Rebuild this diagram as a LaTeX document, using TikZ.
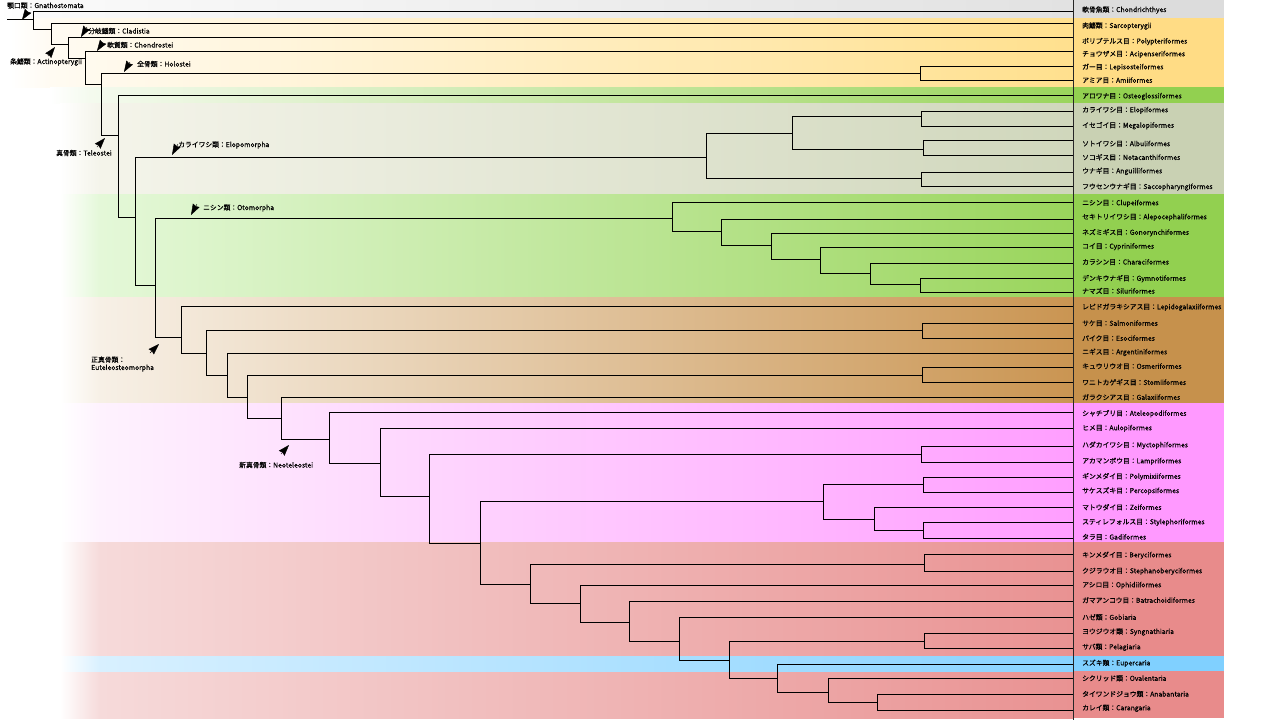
\documentclass[tikz,border=0pt]{standalone}
\usepackage{fontspec}
\setmainfont{Noto Sans CJK JP}
\newfontfamily\labfont{Noto Sans CJK JP}[FakeBold=0.35]
\usetikzlibrary{arrows.meta}

\definecolor{chonL}{HTML}{FAFAFA}\definecolor{chonR}{HTML}{E2E2E2}\definecolor{chonB}{HTML}{DCDCDC}
\definecolor{sarcL}{HTML}{FFFBF2}\definecolor{sarcR}{HTML}{FFE08E}\definecolor{sarcB}{HTML}{FFDC85}
\definecolor{osteL}{HTML}{F4FAEE}\definecolor{osteR}{HTML}{9AD55C}\definecolor{osteB}{HTML}{92D050}
\definecolor{elopL}{HTML}{F4F4EA}\definecolor{elopR}{HTML}{D0D7BC}\definecolor{elopB}{HTML}{C9D1B3}
\definecolor{otomL}{HTML}{E4F8D8}\definecolor{otomR}{HTML}{9AD55C}\definecolor{otomB}{HTML}{92D050}
\definecolor{euteL}{HTML}{F7F0E6}\definecolor{euteR}{HTML}{CA9552}\definecolor{euteB}{HTML}{C6914C}
\definecolor{neotL}{HTML}{FEF2FE}\definecolor{neotR}{HTML}{FF9EFF}\definecolor{neotB}{HTML}{FF99FF}
\definecolor{percL}{HTML}{F6DADA}\definecolor{percR}{HTML}{E99292}\definecolor{percB}{HTML}{E88B8B}
\definecolor{eupeL}{HTML}{D8F0FF}\definecolor{eupeR}{HTML}{88D3FF}\definecolor{eupeB}{HTML}{80D0FF}

% band: y1, y2, x start, left, right, label area
\newcommand{\fishband}[6]{%
  \shade[left color=white,right color=#4] (#3,#1) rectangle (#3+40,#2);
  \shade[left color=#4,right color=#5] (#3+40,#1) rectangle (1073,#2);
  \fill[#6] (1073,#1) rectangle (1224,#2);}

\begin{document}
\begin{tikzpicture}[x=1pt,y=-1pt,
  branch/.style={draw=black,line width=.8pt},
  leaf/.style={anchor=west,inner sep=0pt,font=\labfont\fontsize{6.8}{7.8}\selectfont},
  clade/.style={anchor=west,inner sep=0pt,align=left,font=\labfont\fontsize{6.8}{7.8}\selectfont},
  pointer/.style={-{Stealth[length=11pt,width=7.5pt,inset=1pt]},line width=.4pt},
  rim/.style={draw=black!85,line width=1pt},
  ]
  \useasboundingbox (0,0) rectangle (1280,720);

  \fishband{0}{18}{0}{chonL}{chonR}{chonB}
  \fishband{18}{87}{10}{sarcL}{sarcR}{sarcB}
  \fishband{87}{103}{50}{osteL}{osteR}{osteB}
  \fishband{103}{194}{60}{elopL}{elopR}{elopB}
  \fishband{194}{297}{60}{otomL}{otomR}{otomB}
  \fishband{297}{403}{60}{euteL}{euteR}{euteB}
  \fishband{403}{542}{60}{neotL}{neotR}{neotB}
  \fishband{542}{718}{60}{percL}{percR}{percB}
  \fishband{656}{671}{60}{eupeL}{eupeR}{eupeB}

  % tips and names
  \foreach \n/\yl/\yt/\lab in {
    chon/11/10/軟骨魚類：Chondrichthyes,
    sarc/23/26/肉鰭類：Sarcopterygii,
    polyp/37/41.5/ポリプテルス目：Polypteriformes,
    acip/51/54.3/チョウザメ目：Acipenseriformes,
    lepi/66/67.3/ガー目：Lepisosteiformes,
    amii/80/80.3/アミア目：Amiiformes,
    osteo/95/96.5/アロワナ目：Osteoglossiformes,
    elop/111.7/110.3/カライワシ目：Elopiformes,
    mega/126.7/125.7/イセゴイ目：Megalopiformes,
    albu/140.7/143.7/ソトイワシ目：Albuliformes,
    nota/155.3/157.3/ソコギス目：Notacanthiformes,
    angl/172.3/171.3/ウナギ目：Anguilliformes,
    sacc/186.7/187/フウセンウナギ目：Saccopharyngiformes,
    clup/202/203.3/ニシン目：Clupeiformes,
    alep/219.3/217.3/セキトリイワシ目：Alepocephaliformes,
    gono/233.3/232.7/ネズミギス目：Gonorynchiformes,
    cypr/247.3/246.7/コイ目：Cypriniformes,
    char/263.3/262/カラシン目：Characiformes,
    gymn/278.7/278.7/デンキウナギ目：Gymnotiformes,
    silu/292/291/ナマズ目：Siluriformes,
    lepg/306/307.3/レピドガラキシアス目：Lepidogalaxiiformes,
    salm/323/323.3/サケ目：Salmoniformes,
    esoc/338/338.3/パイク目：Esociformes,
    arge/353/352.3/ニギス目：Argentiniformes,
    osme/367/366.3/キュウリウオ目：Osmeriformes,
    stom/382/382.3/ワニトカゲギス目：Stomiiformes,
    gala/397/397.3/ガラクシアス目：Galaxiiformes,
    atel/412/413.7/シャチブリ目：Ateleopodiformes,
    aulo/428.7/428.3/ヒメ目：Aulopiformes,
    myct/446/445.3/ハダカイワシ目：Myctophiformes,
    lamp/462/461.3/アカマンボウ目：Lampriformes,
    poly/477.7/476.7/ギンメダイ目：Polymixiiformes,
    perc/492.7/491/サケスズキ目：Percopsiformes,
    zeif/507/507.3/マトウダイ目：Zeiformes,
    styl/522.7/522.3/スティレフォルス目：Stylephoriformes,
    gadi/538/537/タラ目：Gadiformes,
    bery/554.7/555.3/キンメダイ目：Beryciformes,
    steph/571/571.3/クジラウオ目：Stephanoberyciformes,
    ophi/585/585.3/アシロ目：Ophidiiformes,
    batr/601.7/600.3/ガマアンコウ目：Batrachoidiformes,
    gobi/617.7/617.3/ハゼ類：Gobiaria,
    syng/633/632/ヨウジウオ類：Syngnathiaria,
    pela/648/647.3/サバ類：Pelagiaria,
    eupe/664/663.3/スズキ類：Eupercaria,
    oval/678.7/678.3/シクリッド類：Ovalentaria,
    anab/694.7/694/タイワンドジョウ類：Anabantaria,
    cara/710.7/708.3/カレイ類：Carangaria}{
    \coordinate (e-\n) at (1073,\yl);
    \node[leaf] (t-\n) at (1082,\yt) {\lab};
  }

  % inner nodes
  \coordinate (base) at (7,19);
  \coordinate (gnath) at (33,19);
  \coordinate (osteich) at (51,29);
  \coordinate (actino) at (68,44);
  \coordinate (actn) at (85,58);
  \coordinate (neopt) at (101,84);
  \coordinate (holo) at (920,73);
  \coordinate (teleo) at (118,135);
  \coordinate (oscl) at (135,217);
  \coordinate (elopo) at (706,157);
  \coordinate (elme) at (792.7,133);
  \coordinate (elmg) at (921.7,116.3);
  \coordinate (alno) at (923.3,149.7);
  \coordinate (angu) at (921.7,178.7);
  \coordinate (clupeo) at (155,285);
  \coordinate (otomo) at (672.7,218.3);
  \coordinate (ostar) at (721.7,231);
  \coordinate (ost3) at (771,245.3);
  \coordinate (otoph) at (820.7,259.3);
  \coordinate (chsi) at (870.7,273.3);
  \coordinate (gysi) at (920.7,284.3);
  \coordinate (eute) at (181,337);
  \coordinate (eu2) at (206,353);
  \coordinate (saes) at (922,330);
  \coordinate (eu3) at (227,375);
  \coordinate (eu4) at (247,397);
  \coordinate (osst) at (922,375);
  \coordinate (eu5) at (281,418);
  \coordinate (neot) at (329,439);
  \coordinate (eury) at (380,463);
  \coordinate (ctenos) at (429,496);
  \coordinate (mylm) at (921,454);
  \coordinate (acant) at (480,543);
  \coordinate (parac) at (823.5,501);
  \coordinate (pope) at (923,484);
  \coordinate (zsg) at (874,519);
  \coordinate (stga) at (923,530.7);
  \coordinate (acpt) at (530,584);
  \coordinate (best) at (924.5,564);
  \coordinate (perco) at (580.5,603);
  \coordinate (p2) at (629,622);
  \coordinate (p3) at (679,641);
  \coordinate (p4) at (729,660);
  \coordinate (sype) at (924.5,641);
  \coordinate (p5) at (777,678);
  \coordinate (p6) at (828,692);
  \coordinate (anca) at (877,702);

  \draw[branch] (base) -- (gnath);
  \foreach \p/\c in {gnath/e-chon, gnath/osteich, osteich/e-sarc, osteich/actino,
    actino/e-polyp, actino/actn, actn/e-acip, actn/neopt, neopt/holo, neopt/teleo,
    holo/e-lepi, holo/e-amii, teleo/e-osteo, teleo/oscl, oscl/elopo, oscl/clupeo,
    elopo/elme, elopo/angu, elme/elmg, elme/alno, elmg/e-elop, elmg/e-mega,
    alno/e-albu, alno/e-nota, angu/e-angl, angu/e-sacc,
    clupeo/otomo, clupeo/eute, otomo/e-clup, otomo/ostar, ostar/e-alep, ostar/ost3,
    ost3/e-gono, ost3/otoph, otoph/e-cypr, otoph/chsi, chsi/e-char, chsi/gysi,
    gysi/e-gymn, gysi/e-silu,
    eute/e-lepg, eute/eu2, eu2/saes, eu2/eu3, saes/e-salm, saes/e-esoc,
    eu3/e-arge, eu3/eu4, eu4/osst, eu4/eu5, osst/e-osme, osst/e-stom,
    eu5/e-gala, eu5/neot, neot/e-atel, neot/eury, eury/e-aulo, eury/ctenos,
    ctenos/mylm, ctenos/acant, mylm/e-myct, mylm/e-lamp,
    acant/parac, acant/acpt, parac/pope, parac/zsg, pope/e-poly, pope/e-perc,
    zsg/e-zeif, zsg/stga, stga/e-styl, stga/e-gadi,
    acpt/best, acpt/perco, best/e-bery, best/e-steph, perco/e-ophi, perco/p2,
    p2/e-batr, p2/p3, p3/e-gobi, p3/p4, p4/sype, p4/p5, sype/e-syng, sype/e-pela,
    p5/e-eupe, p5/p6, p6/e-oval, p6/anca, anca/e-anab, anca/e-cara}
    \draw[branch] (\p) |- (\c);

  \coordinate (rimtop) at (1073,0);
  \coordinate (rimbot) at (1073,720);
  \draw[rim] (rimtop) -- (rimbot);

  % clade names
  \node[clade] (c-gnath) at (7,5.5) {顎口類：Gnathostomata};
  \node[clade] (c-actino) at (10,62) {条鰭類：Actinopterygii};
  \node[clade] (c-clad) at (88,31) {分岐鰭類：Cladistia};
  \node[clade] (c-chond) at (107,45) {軟質類：Chondrostei};
  \node[clade] (c-holo) at (137,64) {全骨類：Holostei};
  \node[clade] (c-teleo) at (56,153) {真骨類：Teleostei};
  \node[clade] (c-elopo) at (178,145) {カライワシ類：Elopomorpha};
  \node[clade] (c-otomo) at (203,208) {ニシン類：Otomorpha};
  \node[clade] (c-eute) at (91,364) {正真骨類：\\Euteleosteomorpha};
  \node[clade] (c-neot) at (239,465) {新真骨類：Neoteleostei};

  \foreach \fx/\fy/\tx/\ty in {28/11/22/20, 48/56/55/47, 87/27/81/37,
    103/42/97/51, 130/62/124/72, 97/147/105/138, 178/144/172/155,
    197/204/191/215, 150/353/159/344, 281/454/289/445}
    \draw[pointer] (\fx,\fy) -- (\tx,\ty);

\end{tikzpicture}
\end{document}
